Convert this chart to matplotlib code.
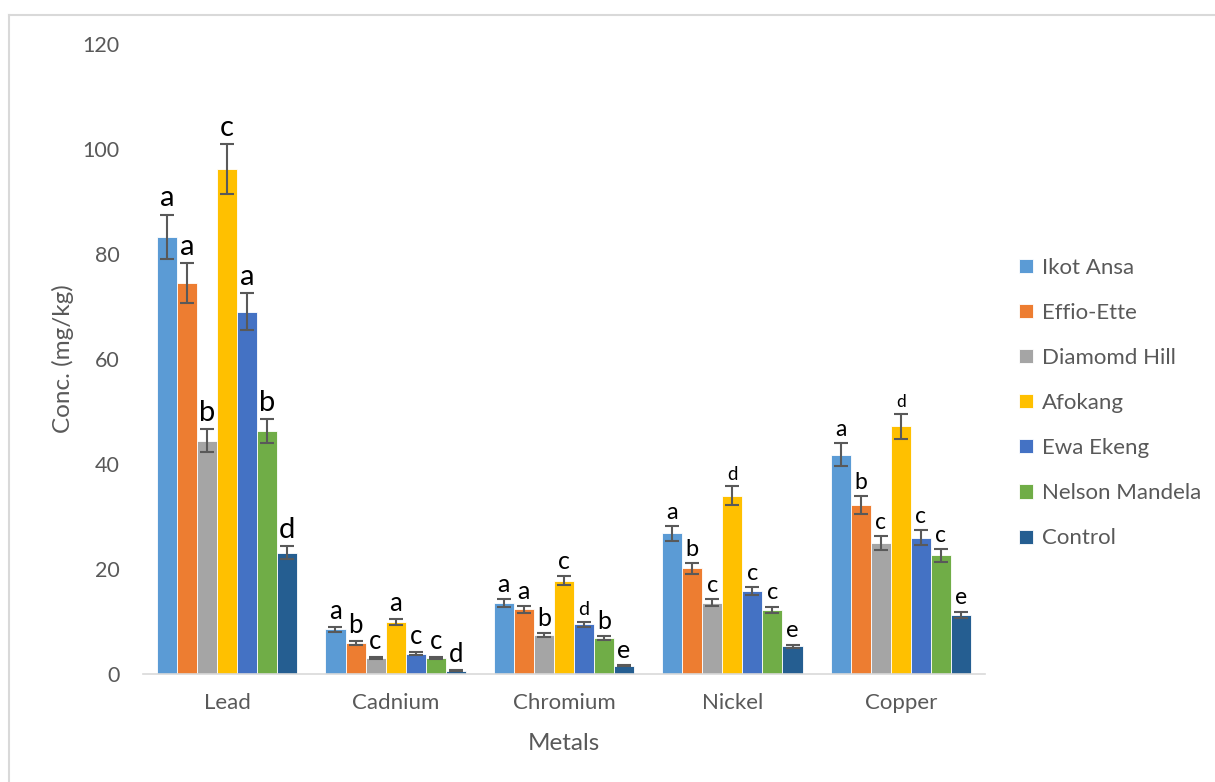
import numpy as np
import matplotlib
matplotlib.use("Agg")
import matplotlib.pyplot as plt
from matplotlib.lines import Line2D

plt.rcParams['font.family'] = ['Lato', 'DejaVu Sans']

# data
metals = ["Lead", "Cadnium", "Chromium", "Nickel", "Copper"]
sites = ["Ikot Ansa", "Effio-Ette", "Diamomd Hill", "Afokang",
         "Ewa Ekeng", "Nelson Mandela", "Control"]
colors = ["#5B9BD5", "#ED7D31", "#A5A5A5", "#FFC000",
          "#4472C4", "#70AD47", "#255E91"]

ikot = [83.3, 8.5, 13.5, 26.8, 41.8]
effio = [74.4, 5.9, 12.3, 20.1, 32.2]
diamond = [44.4, 3.1, 7.4, 13.6, 24.9]
afokang = [96.2, 9.9, 17.8, 34.0, 47.2]
ewa = [69.0, 3.9, 9.5, 15.8, 26.0]
nelson = [46.3, 3.1, 6.9, 12.2, 22.6]
control = [23.1, 0.6, 1.6, 5.3, 11.3]

ikot_err = [4.2, 0.5, 0.8, 1.4, 2.2]
effio_err = [3.8, 0.4, 0.6, 1.0, 1.65]
diamond_err = [2.2, 0.2, 0.4, 0.7, 1.3]
afokang_err = [4.8, 0.5, 0.9, 1.75, 2.4]
ewa_err = [3.5, 0.2, 0.5, 0.8, 1.4]
nelson_err = [2.3, 0.2, 0.4, 0.65, 1.2]
control_err = [1.2, 0.1, 0.15, 0.3, 0.6]

ikot_lbl = ["a", "a", "a", "a", "a"]
effio_lbl = ["a", "b", "a", "b", "b"]
diamond_lbl = ["b", "c", "b", "c", "c"]
afokang_lbl = ["c", "a", "c", "d", "d"]
ewa_lbl = ["a", "c", "d", "c", "c"]
nelson_lbl = ["b", "c", "b", "c", "c"]
control_lbl = ["d", "d", "e", "e", "e"]

values = [ikot, effio, diamond, afokang, ewa, nelson, control]
errors = [ikot_err, effio_err, diamond_err, afokang_err, ewa_err, nelson_err, control_err]
letters = [ikot_lbl, effio_lbl, diamond_lbl, afokang_lbl, ewa_lbl, nelson_lbl, control_lbl]

# letter sizes per metal group (the pasted-in letters differ in size)
letter_size = [21, 18.5, 18, 17, 16.5]
small_letters = {(4, 2): 14, (3, 3): 13.5, (3, 4): 12.5}

grey = "#595959"

fig = plt.figure(figsize=(12.15, 7.82), dpi=100)
ax = fig.add_axes([143/1215, 1-674/782, (985-143)/1215, (674-44)/782])

x = np.arange(len(metals))
w = 0.119
for i, (s, c) in enumerate(zip(sites, colors)):
    pos = x + (i - 3) * w
    ax.bar(pos, values[i], w, color=c, edgecolor="white", linewidth=0.6, label=s,
           yerr=errors[i], error_kw=dict(ecolor=grey, elinewidth=1.5, capsize=5, capthick=1.5))
    for j in range(len(metals)):
        fs = small_letters.get((i, j), letter_size[j])
        ax.text(pos[j], values[i][j] + errors[i][j] + 0.6, letters[i][j],
                ha="center", va="bottom", fontsize=fs, color="black")

ax.set_xlim(-0.5, 4.5)
ax.set_ylim(0, 120)
ax.set_yticks(range(0, 121, 20))
ax.set_xticks(x)
ax.set_xticklabels(metals)
ax.tick_params(axis="both", length=0, labelsize=15.5, colors=grey)
ax.tick_params(axis="x", labelsize=16, pad=14)
ax.tick_params(axis="y", pad=17)
for sp in ["top", "right", "left"]:
    ax.spines[sp].set_visible(False)
ax.spines["bottom"].set_color("#D9D9D9")
ax.spines["bottom"].set_linewidth(1.2)

ax.set_ylabel("Conc. (mg/kg)", fontsize=17.5, color=grey, labelpad=6)
ax.set_xlabel("Metals", fontsize=17.5, color=grey, labelpad=14)

ax.legend(loc="center left", bbox_to_anchor=(1.017, 0.43), frameon=False,
          fontsize=16, labelcolor=grey, handlelength=0.6, handleheight=0.6,
          handletextpad=0.4, labelspacing=1.13)

# chart-area border (only top and left edges visible in the crop)
fig.add_artist(Line2D([9/1215, 9/1215], [0, 1-15/782], transform=fig.transFigure,
                      color="#D9D9D9", linewidth=1.5))
fig.add_artist(Line2D([9/1215, 1], [1-15/782, 1-15/782], transform=fig.transFigure,
                      color="#D9D9D9", linewidth=1.5))

fig.savefig("out.png", dpi=100)
